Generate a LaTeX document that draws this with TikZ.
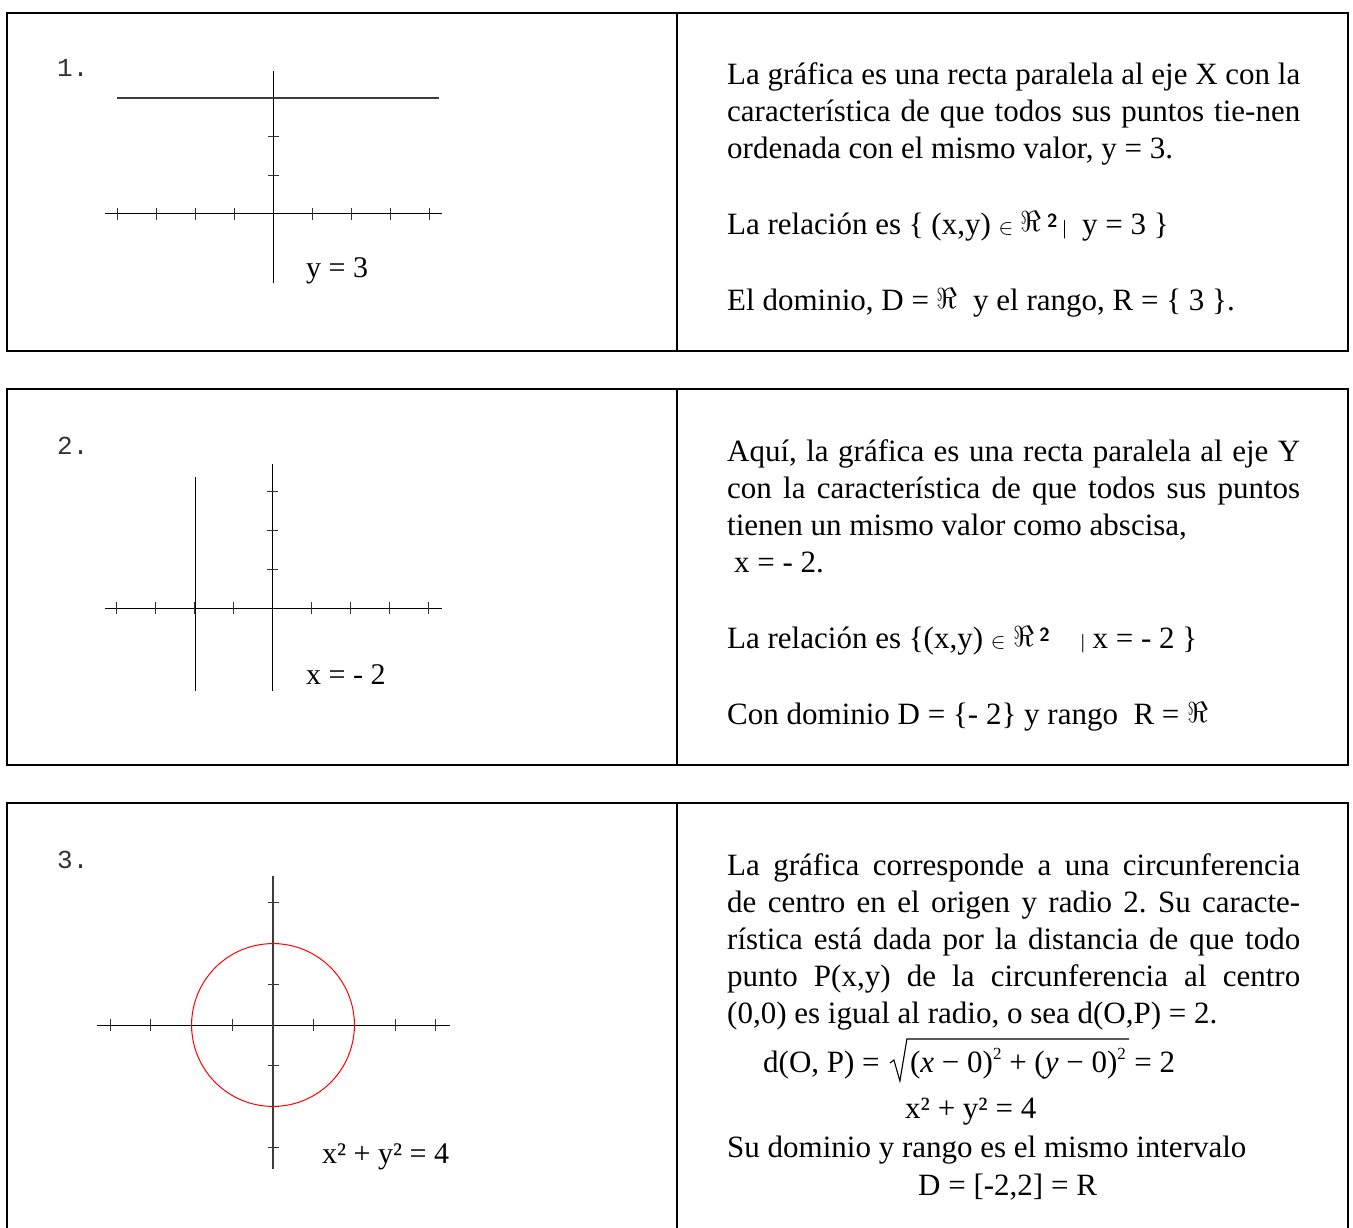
\documentclass[tikz,border=0pt]{standalone}
\usepackage{fix-cm}
\usepackage{fontspec}
\setmainfont{Liberation Serif}
\setmonofont{Liberation Mono}
\usetikzlibrary{positioning}
\definecolor{axisgray}{HTML}{3C3C3C}
\definecolor{numgray}{HTML}{333333}
\newcommand{\erre}{\raisebox{2pt}{\fontsize{29}{29}\selectfont$\Re$}}
\newcommand{\errecuad}{\erre\,\raisebox{7pt}{\fontsize{19}{19}\selectfont\sffamily\bfseries 2}}
\newcommand{\perten}{{\fontsize{22}{22}\selectfont$\in$}}
\newcommand{\barra}{{\fontsize{20}{20}\selectfont|}}
\newcommand{\cuad}{\raisebox{13pt}{\fontsize{17}{17}\selectfont 2}}
\hyphenpenalty=10000
\tolerance=9999
\frenchspacing
\tikzset{
  cellbox/.style={line width=1.3pt},
  axisline/.style={line width=1pt},
  tickmark/.style={line width=0.9pt,black!80},
  radical/.style={line width=1.1pt,line join=miter},
  itemnum/.style={anchor=base west,inner sep=0pt,text=numgray,font=\fontsize{26}{26}\selectfont\ttfamily},
  graphlabel/.style={anchor=base west,inner sep=0pt,font=\fontsize{30}{30}\selectfont},
  bodytext/.style={anchor=base west,inner sep=0pt,text width=573pt,align=justify,font=\fontsize{31}{37}\selectfont},
  bodyline/.style={anchor=base west,inner sep=0pt,font=\fontsize{31}{37}\selectfont},
}

\begin{document}
\begin{tikzpicture}[x=1pt,y=-1pt]
\useasboundingbox (0,0) rectangle (1353,1228);

% cells
\draw[cellbox] (7,13) rectangle (1348,351);
\draw[cellbox] (677,13) -- (677,351);
\draw[cellbox] (7,389) rectangle (1348,765);
\draw[cellbox] (677,389) -- (677,765);
\draw[cellbox] (7,1228) -- (7,803) -- (1348,803) -- (1348,1228);
\draw[cellbox] (677,803) -- (677,1228);

% 1. y = 3
\node[itemnum] (numA) at (57,77) {1.};
\begin{scope}[shift={(273,214)},x=39pt,y=38.7pt]
  \draw[axisline] (-4.31,0) -- (4.33,0);
  \draw[axisline] (0,-1.79) -- (0,3.69);
  \foreach \t in {-4,-3,-2,-1,1,2,3,4}
    \draw[tickmark] (\t,-6pt) -- (\t,6pt);
  \foreach \t in {1,2}
    \draw[tickmark] (-5.5pt,\t) -- (5.5pt,\t);
  \draw[axisgray,line width=1.6pt] (-4,3) -- (4.26,3);
\end{scope}
\node[graphlabel] (labA) at (306,277) {y = 3};

\node[bodytext] (txtA) at (727,85)
  {La gráfica es una recta paralela al eje X con la\linebreak
   característica de que todos sus puntos \mbox{tie-nen}\linebreak
   ordenada con el mismo valor, y = 3.};
\node[bodyline] (relA) at (727,234) {La relación es \{ (x,y) \perten\ \errecuad\,\barra\ \ y = 3 \}};
\node[bodyline] (domA) at (727,310) {El dominio, D = \erre\ \ y el rango, R = \{ 3 \}.};

% 2. x = -2
\node[itemnum] (numB) at (57,454) {2.};
\begin{scope}[shift={(272,608)},x=39pt,y=39pt]
  \draw[axisline] (-4.28,0) -- (4.36,0);
  \draw[axisline] (0,-2.13) -- (0,3.69);
  \foreach \t in {-4,-3,-2,-1,1,2,3,4}
    \draw[tickmark] (\t,-6pt) -- (\t,6pt);
  \foreach \t in {1,2,3}
    \draw[tickmark] (-5.5pt,\t) -- (5.5pt,\t);
  \draw[line width=1.3pt] (-1.97,3.36) -- (-1.97,-2.13);
\end{scope}
\node[graphlabel] (labB) at (306,684) {x = - 2};

\node[bodytext] (txtB) at (727,461)
  {Aquí, la gráfica es una recta paralela al eje Y\linebreak
   con la característica de que todos sus puntos\linebreak
   tienen un mismo valor como abscisa,\\
   \hspace*{7pt}x = - 2.};
\node[bodyline] (relB) at (727,648) {La relación es \{(x,y) \perten\ \errecuad\quad\barra\ x = - 2 \}};
\node[bodyline] (domB) at (727,724) {Con dominio D = \{- 2\} y rango \ R = \erre};

% 3. x^2 + y^2 = 4
\node[itemnum] (numC) at (57,868) {3.};
\begin{scope}[shift={(273,1025)},x=40.7pt,y=40.7pt]
  \draw[axisline] (-4.32,0) -- (4.35,0);
  \foreach \t in {-4,-3,-2,-1,1,2,3,4}
    \draw[tickmark] (\t,-6pt) -- (\t,6pt);
  \foreach \t in {-3,-2,-1,1,2,3}
    \draw[tickmark] (-5.5pt,\t) -- (5.5pt,\t);
  \draw[axisgray,line width=1.8pt] (0,3.66) -- (0,-3.54);
  \draw[red,line width=1pt] (0,0) circle (2);
\end{scope}
\node[graphlabel] (labC) at (322,1163) {x² + y² = 4};

\node[bodytext] (txtC) at (727,875)
  {La gráfica corresponde a una circunferencia\linebreak
   de centro en el origen y radio 2. Su caracte-\linebreak
   rística está dada por la distancia de que todo\linebreak
   punto P(x,y) de la circunferencia al centro\linebreak
   (0,0) es igual al radio, o sea d(O,P) = 2.};
\node[bodyline] (distL) at (763,1072) {d(O, P) =};
\node[bodyline,base right=30pt of distL] (distR)
  {(\textit{x} − 0)\cuad\ + (\textit{y} − 0)\cuad};
\node[bodyline,base right=8pt of distR] (distE) {= 2};
\draw[radical] ([xshift=-20pt,yshift=9pt]distR.base west)
  -- ([xshift=-16pt,yshift=12pt]distR.base west)
  -- ([xshift=-10pt,yshift=-9pt]distR.base west)
  -- ([xshift=-3pt,yshift=33pt]distR.base west)
  -- ([xshift=3pt,yshift=33pt]distR.base east);
\node[bodyline] (ecuC) at (905,1118) {x² + y² = 4};
\node[bodyline] (domC) at (727,1157) {Su dominio y rango es el mismo intervalo};
\node[bodyline] (intC) at (918,1195) {D = [-2,2] = R};
\end{tikzpicture}
\end{document}
